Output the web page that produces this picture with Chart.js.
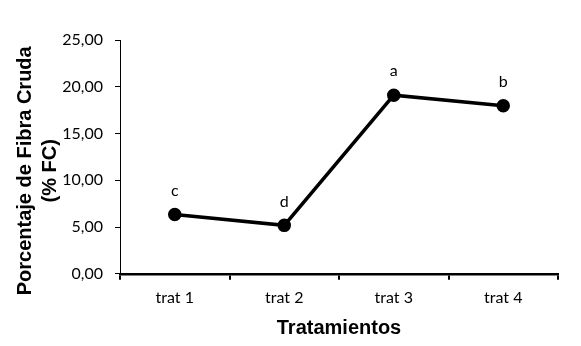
<!DOCTYPE html>
<html>
<head>
<meta charset="utf-8">
<script src="https://cdn.jsdelivr.net/npm/chart.js@4/dist/chart.umd.min.js"></script>
<style>
  html, body { margin: 0; padding: 0; background: #fff; }
  #wrap { width: 581px; height: 346px; }
</style>
</head>
<body>
<div id="wrap"><canvas id="fibraChart"></canvas></div>
<script>
const categories = ['trat 1', 'trat 2', 'trat 3', 'trat 4'];
const fibraValues = [6.35, 5.18, 19.1, 17.96];
const letters = ['c', 'd', 'a', 'b'];

// letras de significancia encima de cada punto
const letterPlugin = {
    id: 'letters',
    afterDatasetsDraw(chart) {
        const ctx = chart.ctx;
        const meta = chart.getDatasetMeta(0);
        ctx.save();
        ctx.font = '16px Lato, "Open Sans", sans-serif';
        ctx.fillStyle = '#000';
        ctx.textAlign = 'center';
        ctx.textBaseline = 'middle';
        meta.data.forEach((pt, i) => {
            ctx.fillText(letters[i], pt.x, pt.y - 24);
        });
        ctx.restore();
    }
};

// espacios al final para bajar un poco el titulo (como en el original)
const pad = '\u00a0'.repeat(5);

const ctx = document.getElementById('fibraChart').getContext('2d');
const fibraChart = new Chart(ctx, {
    type: 'line',
    data: {
        labels: categories,
        datasets: [{
            data: fibraValues,
            borderColor: '#000',
            backgroundColor: '#000',
            pointBackgroundColor: '#000',
            pointBorderColor: '#000',
            borderWidth: 3.5,
            pointRadius: 5,
            tension: 0
        }]
    },
    options: {
        responsive: true,
        maintainAspectRatio: false,
        animation: false,
        layout: { padding: { top: 40, right: 23, bottom: 6, left: 13 } },
        plugins: {
            legend: { display: false },
            tooltip: { enabled: false }
        },
        scales: {
            x: {
                offset: true,
                grid: {
                    offset: true,
                    drawOnChartArea: false,
                    drawTicks: true,
                    tickLength: 6,
                    color: '#000',
                    lineWidth: 2
                },
                border: { color: '#000', width: 2.5 },
                ticks: {
                    color: '#000',
                    padding: 8,
                    font: { family: 'Lato, "Open Sans", sans-serif', size: 16 }
                },
                title: {
                    display: true,
                    text: 'Tratamientos',
                    color: '#000',
                    padding: { top: 1, bottom: 0 },
                    font: { family: '"Liberation Sans", Arial, sans-serif', size: 20, weight: 'bold' }
                }
            },
            y: {
                min: 0,
                max: 25,
                // ancho fijo para que el eje quede en x=120
                afterFit: scale => { scale.width = 107; },
                grid: {
                    drawOnChartArea: false,
                    drawTicks: true,
                    tickLength: 5,
                    color: '#000'
                },
                border: { color: '#000', width: 1 },
                ticks: {
                    stepSize: 5,
                    color: '#000',
                    padding: 12,
                    font: { family: 'Lato, "Open Sans", sans-serif', size: 16 },
                    callback: v => v.toFixed(2).replace('.', ',')
                },
                title: {
                    display: true,
                    text: ['Porcentaje de Fibra Cruda' + pad, '(% FC)' + pad],
                    color: '#000',
                    padding: { top: 0, bottom: 0 },
                    font: { family: '"Liberation Sans", Arial, sans-serif', size: 20, weight: 'bold', lineHeight: 1.25 }
                }
            }
        }
    },
    plugins: [letterPlugin]
});
</script>
</body>
</html>
